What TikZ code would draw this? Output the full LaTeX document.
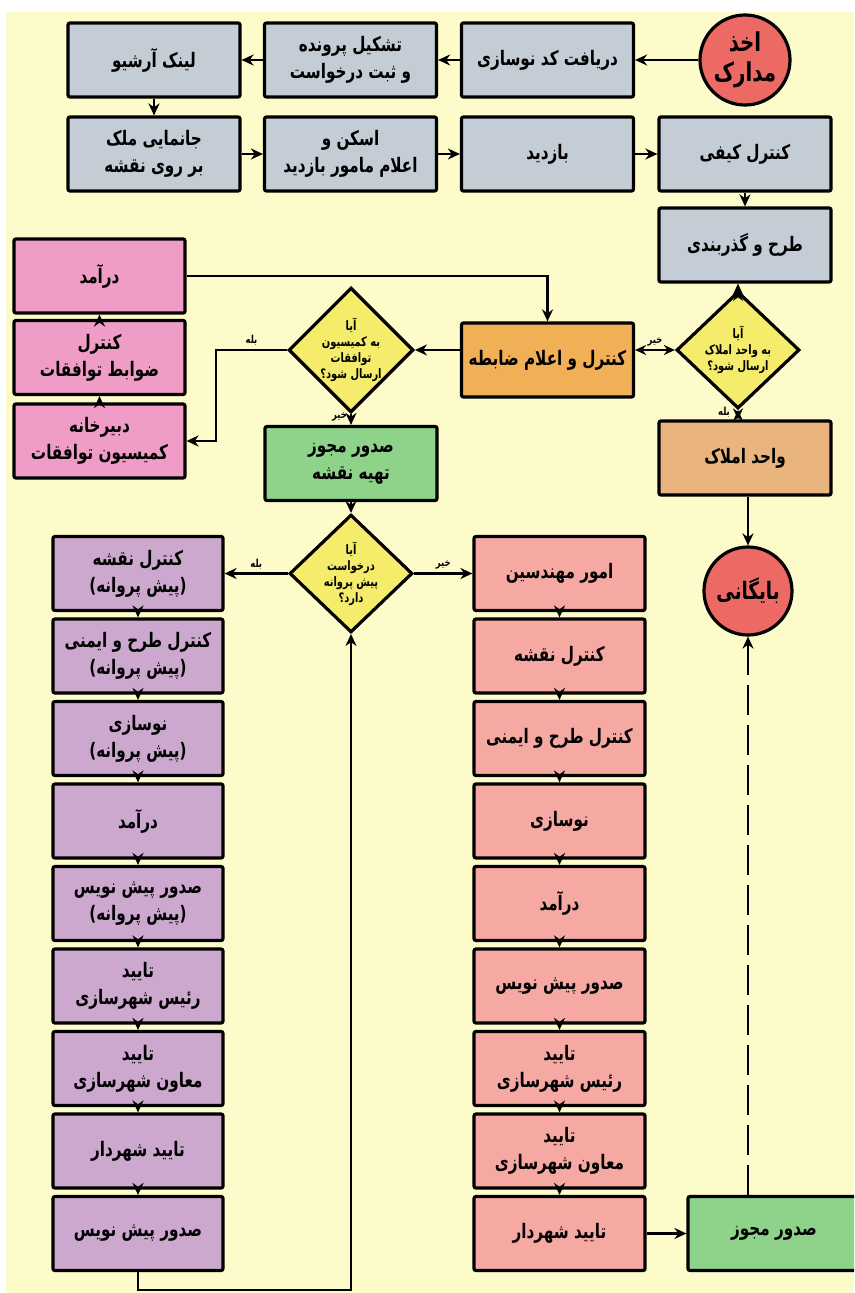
\documentclass[tikz,border=0pt]{standalone}
\usepackage{fontspec}
\newfontfamily\arabicfont[Script=Arabic,FakeStretch=0.76]{DejaVu Sans}
\TeXXeTstate=1
\usetikzlibrary{shapes.geometric,arrows.meta}
\definecolor{paper}{HTML}{FDFBCA}
\definecolor{greybox}{HTML}{C4CDD5}
\definecolor{redcirc}{HTML}{EC6A63}
\definecolor{yellowdia}{HTML}{F4EC6A}
\definecolor{orangebox}{HTML}{F1B055}
\definecolor{tanbox}{HTML}{E9B47E}
\definecolor{pinkbox}{HTML}{EF9DC7}
\definecolor{greenbox}{HTML}{8FD38B}
\definecolor{purplebox}{HTML}{CDA8CE}
\definecolor{salmonbox}{HTML}{F6A9A2}
\newcommand{\fa}[1]{{\arabicfont\beginR #1\endR}}
\begin{document}
\begin{tikzpicture}[x=1pt,y=-1pt,
	box/.style={draw, line width=3.2pt, rounded corners=2pt, minimum width=172pt, minimum height=74pt,
		inner sep=0pt, align=center, font=\bfseries\fontsize{20}{27}\selectfont},
	decision/.style={draw, diamond, aspect=1, line width=3.2pt, fill=yellowdia, minimum width=123pt,
		minimum height=117pt, inner sep=0pt, align=center, font=\bfseries\fontsize{13}{16}\selectfont},
	endpoint/.style={draw, circle, line width=3.2pt, fill=redcirc, minimum size=90pt, inner sep=0pt,
		align=center, font=\bfseries\fontsize{26}{30}\selectfont},
	arr/.style={line width=2.4pt, -{Stealth[length=12pt,width=11pt]}},
	twoway/.style={line width=2.4pt, {Stealth[length=11pt,width=10pt]}-{Stealth[length=11pt,width=10pt]}},
	lbl/.style={font=\bfseries\fontsize{11}{13}\selectfont, inner sep=3pt}]
	\useasboundingbox (0,0) rectangle (854,1293);
	\clip (0,0) rectangle (854,1293);
	\fill[white] (0,0) rectangle (854,1293);
	\fill[paper] (6,12) rectangle (854,1293);

	% top rows
	\node[endpoint] (ekhz) at (745,60) {\fa{اخذ}\\\fa{مدارک}};
	\node[box, fill=greybox] (daryaft) at (547.5,60) {\fa{دریافت کد نوسازی}};
	\node[box, fill=greybox] (tashkil) at (350.5,60) {\fa{تشکیل پرونده}\\\fa{و ثبت درخواست}};
	\node[box, fill=greybox] (link) at (154,60) {\fa{لینک آرشیو}};
	\node[box, fill=greybox] (janamaei) at (154,154) {\fa{جانمایی ملک}\\\fa{بر روی نقشه}};
	\node[box, fill=greybox] (scan) at (350.5,154) {\fa{اسکن و}\\\fa{اعلام مامور بازدید}};
	\node[box, fill=greybox] (bazdid) at (547.5,154) {\fa{بازدید}};
	\node[box, fill=greybox] (keyfi) at (745,154) {\fa{کنترل کیفی}};
	\node[box, fill=greybox] (tarh) at (745,245) {\fa{طرح و گذربندی}};

	% middle part
	\node[decision] (dia1) at (738,350) {\fa{آیا}\\\fa{به واحد املاک}\\\fa{ارسال شود؟}};
	\node[box, fill=orangebox] (zabeteh) at (547.5,360) {\fa{کنترل و اعلام ضابطه}};
	\node[box, fill=tanbox] (amlak) at (745,458) {\fa{واحد املاک}};
	\node[endpoint, minimum size=88pt, font=\bfseries\fontsize{24}{28}\selectfont] (bayegani) at (748,591) {\fa{بایگانی}};
	\node[decision, minimum width=120pt, minimum height=120pt] (dia2) at (351,350) {\fa{آیا}\\\fa{به کمیسیون}\\\fa{توافقات}\\\fa{ارسال شود؟}};
	\node[box, fill=pinkbox, minimum width=171pt] (daramad) at (99.5,276) {\fa{درآمد}};
	\node[box, fill=pinkbox, minimum width=171pt] (zavabet) at (99.5,357.5) {\fa{کنترل}\\\fa{ضوابط توافقات}};
	\node[box, fill=pinkbox, minimum width=171pt] (dabir) at (99.5,441) {\fa{دبیرخانه}\\\fa{کمیسیون توافقات}};
	\node[box, fill=greenbox] (naghsheh) at (351,463.5) {\fa{صدور مجوز}\\\fa{تهیه نقشه}};
	\node[decision] (dia3) at (351,573.5) {\fa{آیا}\\\fa{درخواست}\\\fa{پیش پروانه}\\\fa{دارد؟}};

	% two columns
	\foreach \n/\txt in {1/{\fa{کنترل نقشه}\\\fa{(پیش پروانه)}},
		2/{\fa{کنترل طرح و ایمنی}\\\fa{(پیش پروانه)}},
		3/{\fa{نوسازی}\\\fa{(پیش پروانه)}},
		4/{\fa{درآمد}},
		5/{\fa{صدور پیش نویس}\\\fa{(پیش پروانه)}},
		6/{\fa{تایید}\\\fa{رئیس شهرسازی}},
		7/{\fa{تایید}\\\fa{معاون شهرسازی}},
		8/{\fa{تایید شهردار}},
		9/{\fa{صدور پیش نویس}}}
	{
		\node[box, fill=purplebox, minimum width=170pt] (P\n) at (138,{491+82.5*\n}) {\txt};
	}
	\foreach \n/\txt in {1/{\fa{امور مهندسین}},
		2/{\fa{کنترل نقشه}},
		3/{\fa{کنترل طرح و ایمنی}},
		4/{\fa{نوسازی}},
		5/{\fa{درآمد}},
		6/{\fa{صدور پیش نویس}},
		7/{\fa{تایید}\\\fa{رئیس شهرسازی}},
		8/{\fa{تایید}\\\fa{معاون شهرسازی}},
		9/{\fa{تایید شهردار}}}
	{
		\node[box, fill=salmonbox, minimum width=171pt] (R\n) at (559.5,{491+82.5*\n}) {\txt};
	}
	\node[box, fill=greenbox] (mojavez) at (774,1233.5) {\fa{صدور مجوز}};

	% connectors
	\draw[arr] (ekhz) -- (daryaft);
	\draw[arr] (daryaft) -- (tashkil);
	\draw[arr] (tashkil) -- (link);
	\draw[arr] (link) -- (janamaei);
	\draw[arr] (janamaei) -- (scan);
	\draw[arr] (scan) -- (bazdid);
	\draw[arr] (bazdid) -- (keyfi);
	\draw[arr] (keyfi) -- (tarh);
	\draw[twoway] (dia1.north) -- (dia1.north |- tarh.south);
	\draw[twoway] (dia1.west) -- node[lbl, above] {\fa{خیر}} (dia1.west -| zabeteh.east);
	\draw[twoway] (dia1.south) -- node[lbl, left, pos=0.25, xshift=-4pt] {\fa{بله}} (dia1.south |- amlak.north);
	\draw[arr] (amlak.south -| bayegani) -- (bayegani.north);
	\draw[arr] (daramad.east) -| (zabeteh.north);
	\draw[arr] (dia2.east -| zabeteh.west) -- (dia2.east);
	\draw[arr] (dia2.west) -- node[lbl, above] {\fa{بله}} ++(-71,0) |- (dabir.east);
	\draw[arr] (dabir) -- (zavabet);
	\draw[arr] (zavabet) -- (daramad);
	\draw[arr] (dia2.south) -- node[lbl, left, pos=0.3] {\fa{خیر}} (naghsheh.north);
	\draw[arr] (naghsheh.south) -- (dia3.north);
	\draw[arr] (dia3.west) -- node[lbl, above] {\fa{بله}} (dia3.west -| P1.east);
	\draw[arr] (dia3.east) -- node[lbl, above] {\fa{خیر}} (dia3.east -| R1.west);
	\foreach \a/\b in {1/2,2/3,3/4,4/5,5/6,6/7,7/8,8/9}
	{
		\draw[arr] (P\a) -- (P\b);
		\draw[arr] (R\a) -- (R\b);
	}
	\draw[arr] (R9) -- (mojavez);
	\draw[arr, dash pattern=on 30pt off 10pt] (mojavez.north -| bayegani) -- (bayegani.south);
	\draw[arr] (P9.south) -- ++(0,18) -| (dia3.south);
\end{tikzpicture}
\end{document}
